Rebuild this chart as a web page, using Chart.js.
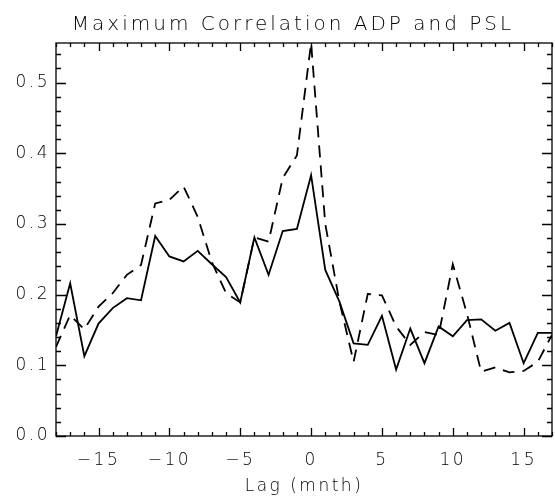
<!DOCTYPE html>
<html>
<head>
<meta charset="utf-8">
<script src="https://cdn.jsdelivr.net/npm/chart.js@4"></script>
<style>
  html, body { margin: 0; padding: 0; background: #fff; }
  canvas { display: block; }
</style>
</head>
<body>
<canvas id="corrChart" width="555" height="500"></canvas>
<script>
// Datos (lag en meses)
const lags = [-18, -17, -16, -15, -14, -13, -12, -11, -10, -9, -8, -7, -6, -5, -4, -3, -2, -1,
              0, 1, 2, 3, 4, 5, 6, 7, 8, 9, 10, 11, 12, 13, 14, 15, 16, 17];
const corrSolid = [0.141, 0.216, 0.113, 0.159, 0.181, 0.195, 0.192, 0.283, 0.254, 0.247, 0.262, 0.243,
                   0.225, 0.189, 0.281, 0.228, 0.290, 0.293, 0.369, 0.235, 0.190, 0.131, 0.129, 0.170,
                   0.094, 0.152, 0.103, 0.155, 0.141, 0.164, 0.165, 0.149, 0.160, 0.103, 0.146, 0.146];
const corrDashed = [0.126, 0.171, 0.151, 0.183, 0.202, 0.228, 0.242, 0.329, 0.334, 0.353, 0.310, 0.246,
                    0.202, 0.189, 0.281, 0.275, 0.365, 0.397, 0.556, 0.300, 0.190, 0.105, 0.201, 0.199,
                    0.155, 0.129, 0.147, 0.143, 0.243, 0.173, 0.091, 0.097, 0.090, 0.092, 0.105, 0.143];
const xTicks = [-15, -10, -5, 0, 5, 10, 15];
const yTicks = [0.0, 0.1, 0.2, 0.3, 0.4, 0.5];

const X_MIN = -18, X_MAX = 17, Y_MIN = 0, Y_MAX = 0.556;
const FONT = "'DejaVu Sans', sans-serif";

// Marco tipo IDL con ticks hacia adentro en los cuatro lados
const frameTicks = {
    id: 'frameTicks',
    beforeDraw(chart) {
        const ctx = chart.ctx;
        ctx.fillStyle = '#fff';
        ctx.fillRect(0, 0, chart.width, chart.height);
        ctx.letterSpacing = '2.5px';
    },
    afterDraw(chart) {
        const { ctx, chartArea: a, scales: { x, y } } = chart;
        ctx.save();
        ctx.strokeStyle = '#000';
        ctx.lineWidth = 1.3;
        ctx.strokeRect(a.left, a.top, a.right - a.left, a.bottom - a.top);
        ctx.beginPath();
        for (let v = X_MIN; v <= X_MAX; v++) {
            const px = Math.round(x.getPixelForValue(v)) + 0.5;
            const len = v % 5 === 0 ? 8 : 4;
            ctx.moveTo(px, a.bottom); ctx.lineTo(px, a.bottom - len);
            ctx.moveTo(px, a.top); ctx.lineTo(px, a.top + len);
        }
        for (let i = 0; i * 0.02 <= Y_MAX; i++) {
            const py = Math.round(y.getPixelForValue(i * 0.02)) + 0.5;
            const len = i % 5 === 0 ? 10 : 5;
            ctx.moveTo(a.left, py); ctx.lineTo(a.left + len, py);
            ctx.moveTo(a.right, py); ctx.lineTo(a.right - len, py);
        }
        ctx.stroke();

        // Titulo
        ctx.letterSpacing = '3px';
        ctx.fillStyle = '#000';
        ctx.font = '200 20px ' + FONT;
        ctx.textAlign = 'center';
        ctx.textBaseline = 'alphabetic';
        ctx.fillText('Maximum Correlation ADP and PSL', 293, 30);
        ctx.restore();
    }
};

const ctx = document.getElementById('corrChart').getContext('2d');
new Chart(ctx, {
    type: 'line',
    data: {
        datasets: [{
            label: 'solid',
            data: lags.map((l, i) => ({ x: l, y: corrSolid[i] })),
            borderColor: '#000',
            borderWidth: 1.8,
            pointRadius: 0,
            tension: 0
        }, {
            label: 'dashed',
            data: lags.map((l, i) => ({ x: l, y: corrDashed[i] })),
            borderColor: '#000',
            borderWidth: 1.8,
            borderDash: [12, 8],
            pointRadius: 0,
            tension: 0
        }]
    },
    options: {
        responsive: false,
        animation: false,
        layout: { padding: { top: 43, right: 3, left: 0, bottom: 0 } },
        plugins: {
            legend: { display: false },
            tooltip: { enabled: false }
        },
        scales: {
            x: {
                type: 'linear',
                min: X_MIN,
                max: X_MAX,
                afterBuildTicks: s => { s.ticks = xTicks.map(v => ({ value: v })); },
                afterFit: s => { s.height = 64; },
                grid: { display: false, drawTicks: false },
                border: { display: false },
                ticks: {
                    color: '#000',
                    font: { family: FONT, size: 17, weight: 200 },
                    padding: 14,
                    maxRotation: 0,
                    callback: v => (v < 0 ? '\u2212' + Math.abs(v) : String(v))
                },
                title: {
                    display: true,
                    text: 'Lag (mnth)',
                    color: '#000',
                    font: { family: FONT, size: 17, weight: 200 },
                    padding: { top: 0, bottom: 3 }
                }
            },
            y: {
                min: Y_MIN,
                max: Y_MAX,
                afterBuildTicks: s => { s.ticks = yTicks.map(v => ({ value: v })); },
                afterFit: s => { s.width = 56; },
                grid: { display: false, drawTicks: false },
                border: { display: false },
                ticks: {
                    color: '#000',
                    font: { family: FONT, size: 17, weight: 200 },
                    padding: 6,
                    callback: v => v.toFixed(1)
                }
            }
        }
    },
    plugins: [frameTicks]
});
</script>
</body>
</html>
